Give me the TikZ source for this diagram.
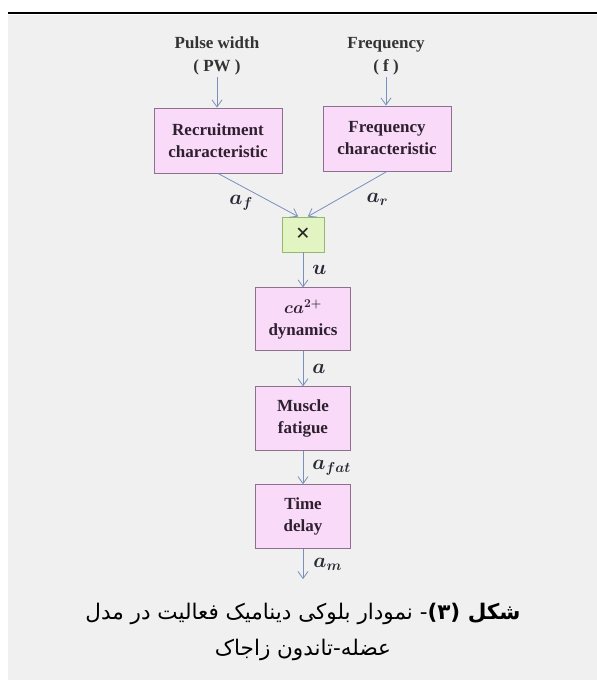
\documentclass[tikz,border=0pt]{standalone}
\usepackage{fontspec}
\usepackage{amsmath}
\setmainfont{Liberation Serif}
\newfontfamily\arabicfont[Script=Arabic]{DejaVu Sans}
\TeXXeTstate=1
\usetikzlibrary{positioning,arrows.meta,calc}

\definecolor{bggray}{HTML}{F0F0F0}
\definecolor{boxpink}{HTML}{F9DAF9}
\definecolor{boxedge}{HTML}{8E708E}
\definecolor{boxtext}{HTML}{2E202E}
\definecolor{mulfill}{HTML}{E2F4C2}
\definecolor{muledge}{HTML}{94B870}
\definecolor{sigblue}{HTML}{7890BE}
\definecolor{lbltext}{HTML}{2A2A36}

\tikzset{
  block/.style={draw=boxedge, fill=boxpink, line width=0.9pt,
    minimum width=128pt, minimum height=65pt, inner sep=0pt,
    align=center, text=boxtext, font=\fontsize{17}{22}\selectfont\bfseries\boldmath},
  inp/.style={align=center, text=black!80, inner sep=2pt,
    font=\fontsize{17}{23}\selectfont\bfseries},
  mulbox/.style={draw=muledge, fill=mulfill, line width=0.9pt,
    minimum width=42pt, minimum height=35pt, inner sep=0pt,
    text=black!85, font=\fontsize{25}{25}\selectfont\bfseries},
  sig/.style={draw=sigblue, line width=0.8pt,
    -{Straight Barb[length=7pt,width=10pt]}},
  lbl/.style={text=lbltext, inner sep=1pt,
    font=\fontsize{21}{24}\selectfont\boldmath},
  capt/.style={align=center, text=black, inner sep=0pt,
    font=\arabicfont\fontsize{21.5}{36}\selectfont},
}

\begin{document}
\begin{tikzpicture}[x=1pt,y=-1pt]
\useasboundingbox (0,0) rectangle (597,680);
\fill[bggray] (8,14.5) rectangle (597,680);
\draw[line width=2.5pt] (8,13) -- (597,13);

% inputs and first blocks
\node[inp] (pw) at (217,56) {Pulse width\\( PW )};
\node[inp] (fq) at (386,56) {Frequency\\( f )};
\node[block] (rec) at (218,140.5) {Recruitment\\characteristic};
\node[block] (frc) at (387,138.5) {Frequency\\characteristic};
\node[mulbox] (mul) at (303,234.5) {×};

% chain below the product
\node[block, minimum width=95pt, minimum height=63pt, below=35pt of mul] (cad) {$ca^{2+}$\\dynamics};
\node[block, minimum width=95pt, minimum height=64pt, below=35pt of cad] (fat) {Muscle\\fatigue};
\node[block, minimum width=95pt, minimum height=64pt, below=33pt of fat] (del) {Time\\delay};
\coordinate[below=30pt of del] (out);

\draw[sig] (pw.south) -- (pw.south |- rec.north);
\draw[sig] (fq.south) -- (fq.south |- frc.north);
\draw[sig] (rec.south) -- node[lbl, midway, xshift=-17pt, yshift=-8pt] {$a_f$} (mul.105);
\draw[sig] (frc.south) -- node[lbl, midway, xshift=30pt, yshift=-5pt] {$a_r$} (mul.75);
\draw[sig] (mul) -- node[lbl, midway, right=8pt] {$u$} (cad);
\draw[sig] (cad) -- node[lbl, midway, right=8pt] {$a$} (fat);
\draw[sig] (fat) -- node[lbl, midway, right=8pt] {$a_{fat}$} (del);
\draw[sig] (del) -- node[lbl, midway, right=9pt] {$a_m$} (out);

% caption
\node[capt] (cap) at (303,632) {\beginR\textbf{شکل (۳)}- نمودار بلوکی دینامیک فعالیت در مدل\endR\\\beginR عضله-تاندون زاجاک\endR};
\end{tikzpicture}
\end{document}
